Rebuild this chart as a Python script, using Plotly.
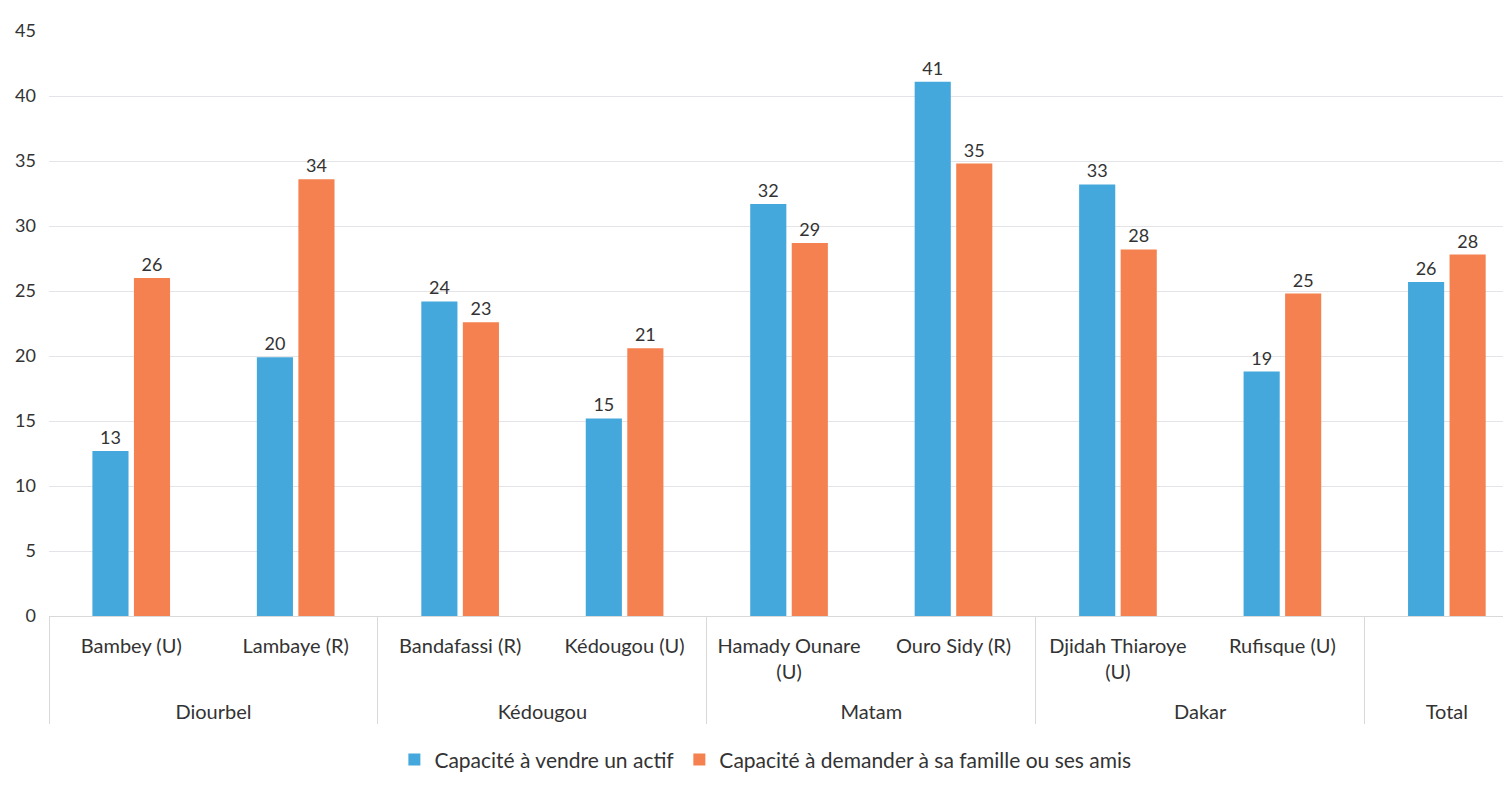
import plotly.graph_objects as go

regions = ["Diourbel", "Diourbel", "Kédougou", "Kédougou", "Matam", "Matam", "Dakar", "Dakar", "Total"]
communes = ["Bambey (U)", "Lambaye (R)", "Bandafassi (R)", "Kédougou (U)", "Hamady Ounare<br>(U)<br>\u00a0",
            "Ouro Sidy (R)", "Djidah Thiaroye<br>(U)<br>\u00a0", "Rufisque (U)", " "]

vendre = [12.7, 19.9, 24.2, 15.2, 31.7, 41.1, 33.2, 18.8, 25.7]
vendre_labels = ["13", "20", "24", "15", "32", "41", "33", "19", "26"]
famille = [26.0, 33.6, 22.6, 20.6, 28.7, 34.8, 28.2, 24.8, 27.8]
famille_labels = ["26", "34", "23", "21", "29", "35", "28", "25", "28"]

series_names = ["Capacité à vendre un actif", "Capacité à demander à sa famille ou ses amis"]
colors = ["#45A8DC", "#F4814F"]
yticks = [0, 5, 10, 15, 20, 25, 30, 35, 40, 45]

FONT = "Lato, 'Open Sans', sans-serif"

fig = go.Figure()
for name, vals, labs, col in [(series_names[0], vendre, vendre_labels, colors[0]),
                              (series_names[1], famille, famille_labels, colors[1])]:
    fig.add_trace(go.Bar(
        x=[regions, communes], y=vals, name=name,
        marker=dict(color=col, line=dict(width=0)),
        text=labs, textposition="outside", cliponaxis=False,
        textfont=dict(size=18, color="#333333", family=FONT),
    ))

fig.update_layout(
    width=1511, height=786,
    margin=dict(l=41, r=8, t=23, b=178),
    paper_bgcolor="white", plot_bgcolor="white",
    barmode="group", bargap=0.495, bargroupgap=0.13,
    font=dict(family=FONT, size=20, color="#333333"),
    showlegend=True,
    legend=dict(orientation="h", x=0.49, xanchor="center", y=-0.246, yanchor="middle",
                font=dict(size=21, color="#333333", family=FONT), traceorder="normal",
                itemwidth=30),
)
fig.update_xaxes(
    type="multicategory", range=[-0.5, 8.39],
    showdividers=True, dividercolor="#D9D9D9", dividerwidth=1,
    showline=True, linecolor="#D9D9D9", linewidth=1,
    tickfont=dict(size=20, color="#333333", family=FONT),
    ticks="", showgrid=False, ticklabelstandoff=12,
)
fig.update_yaxes(
    range=[0, 45], tickvals=yticks, showgrid=True, gridcolor="#E3E3E8", gridwidth=1,
    zeroline=False, showline=False, ticks="", ticklabelstandoff=12,
    tickfont=dict(size=18, color="#333333", family=FONT),
)

fig.write_html("out.html")
